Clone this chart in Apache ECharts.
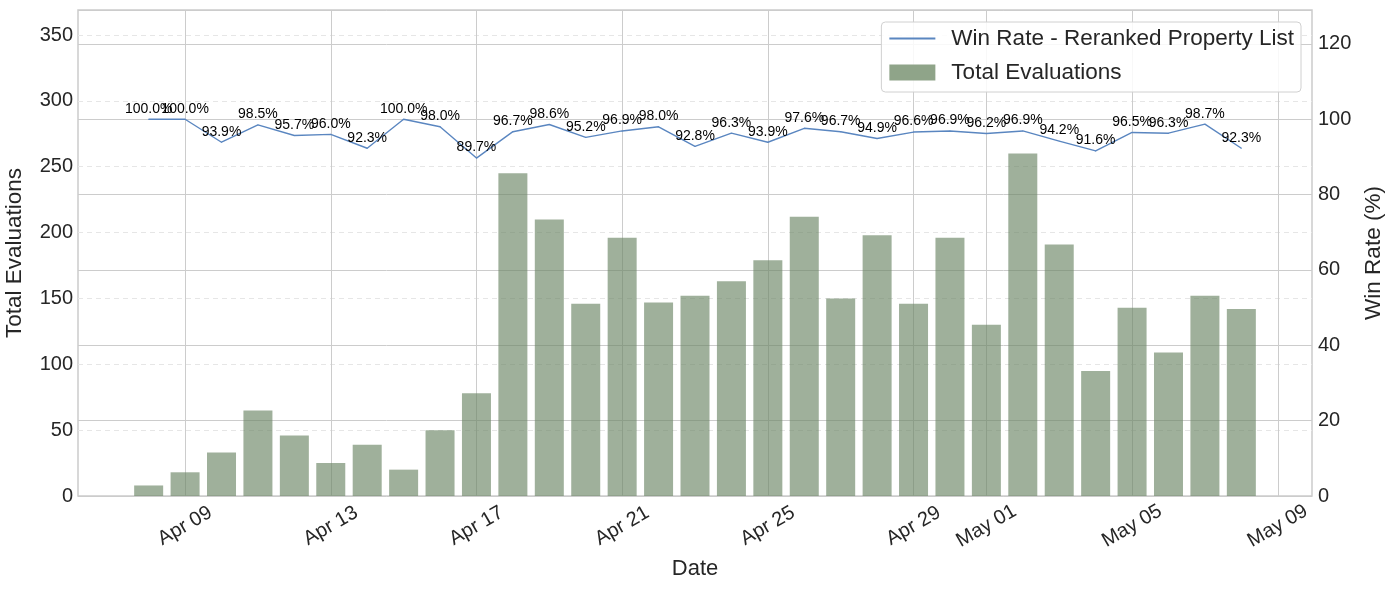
<!DOCTYPE html>
<html>
<head>
<meta charset="utf-8">
<script src="https://cdn.jsdelivr.net/npm/echarts@6/dist/echarts.min.js"></script>
<style>
  html, body { margin: 0; padding: 0; background: #fff; }
  #chart { width: 1390px; height: 590px; }
</style>
</head>
<body>
<div id="chart"></div>
<script>
const dates = [
  '2025-04-08', '2025-04-09', '2025-04-10', '2025-04-11', '2025-04-12', '2025-04-13',
  '2025-04-14', '2025-04-15', '2025-04-16', '2025-04-17', '2025-04-18', '2025-04-19',
  '2025-04-20', '2025-04-21', '2025-04-22', '2025-04-23', '2025-04-24', '2025-04-25',
  '2025-04-26', '2025-04-27', '2025-04-28', '2025-04-29', '2025-04-30', '2025-05-01',
  '2025-05-02', '2025-05-03', '2025-05-04', '2025-05-05', '2025-05-06', '2025-05-07',
  '2025-05-08'
]
const totalEvals = [8, 18, 33, 65, 46, 25, 39, 20, 50, 78, 245, 210, 146, 196, 147, 152,
  163, 179, 212, 150, 198, 146, 196, 130, 260, 191, 95, 143, 109, 152, 142]
const winRate = [100.0, 100.0, 93.9, 98.5, 95.7, 96.0, 92.3, 100.0, 98.0, 89.7, 96.7, 98.6,
  95.2, 96.9, 98.0, 92.8, 96.3, 93.9, 97.6, 96.7, 94.9, 96.6, 96.9, 96.2, 96.9, 94.2,
  91.6, 96.5, 96.3, 98.7, 92.3]
const tickDates = ['2025-04-09', '2025-04-13', '2025-04-17', '2025-04-21', '2025-04-25',
  '2025-04-29', '2025-05-01', '2025-05-05', '2025-05-09']
const monthNames = ['Jan', 'Feb', 'Mar', 'Apr', 'May', 'Jun', 'Jul', 'Aug', 'Sep', 'Oct', 'Nov', 'Dec']

const DAY = 86400000
const t0 = Date.parse(dates[0])
const dayOf = d => (Date.parse(d) - t0) / DAY
const dayLabel = v => {
  const dt = new Date(t0 + Math.round(v) * DAY)
  return monthNames[dt.getUTCMonth()] + ' ' + String(dt.getUTCDate()).padStart(2, '0')
}

const xs = dates.map(dayOf)
const barData = xs.map((x, i) => [x, totalEvals[i]])
const lineData = xs.map((x, i) => [x, winRate[i]])
const ticks = tickDates.map(dayOf)

const font = "'Liberation Sans', Arial, sans-serif"
const textColor = '#262626'
const lineColor = '#5a86c0'

const chart = echarts.init(document.getElementById('chart'))
const option = {
  animation: false,
  textStyle: { fontFamily: font },
  grid: {
    left: 78, right: 78, top: 10, bottom: 94,
    outerBoundsMode: 'none', containLabel: false,
    show: true, borderColor: '#cccccc', borderWidth: 1.5
  },
  legend: {
    right: 89, top: 22, orient: 'vertical',
    itemWidth: 46, itemHeight: 16, itemGap: 11,
    padding: [5, 7, 8, 7],
    backgroundColor: 'rgba(255,255,255,0.85)',
    borderColor: '#d0d0d0', borderWidth: 1, borderRadius: 4,
    textStyle: { fontSize: 22.5, color: textColor, fontFamily: font, padding: [0, 0, 0, 11] },
    data: [
      { name: 'Win Rate - Reranked Property List', itemStyle: { opacity: 0 } },
      { name: 'Total Evaluations', icon: 'rect', itemStyle: { color: '#8fa489', opacity: 1 } }
    ]
  },
  xAxis: {
    type: 'value',
    min: -1.94, max: 31.94,
    name: 'Date', nameLocation: 'middle', nameGap: 62,
    nameTextStyle: { fontSize: 22, color: textColor },
    axisLine: { show: false },
    axisTick: { show: false, customValues: ticks },
    axisLabel: {
      customValues: ticks, rotate: 30, fontSize: 20, color: textColor, margin: 30,
      align: 'center', verticalAlign: 'middle',
      formatter: v => dayLabel(v)
    },
    splitLine: { show: true, lineStyle: { color: '#cccccc', width: 1 } }
  },
  yAxis: [
    {
      type: 'value', min: 0, max: 369, interval: 50,
      name: 'Total Evaluations', nameLocation: 'middle', nameGap: 52,
      nameTextStyle: { fontSize: 22.5, color: textColor },
      axisLine: { show: false }, axisTick: { show: false },
      axisLabel: { fontSize: 20, color: textColor, margin: 5, showMaxLabel: false },
      splitLine: { show: true, lineStyle: { color: '#e6e6e6', type: [5, 4], width: 1 } }
    },
    {
      type: 'value', min: 0, max: 129, interval: 20,
      name: 'Win Rate (%)', nameLocation: 'middle', nameGap: 46,
      nameTextStyle: { fontSize: 22.5, color: textColor },
      axisLine: { show: false }, axisTick: { show: false },
      axisLabel: { fontSize: 20, color: textColor, margin: 6, showMaxLabel: false },
      splitLine: { show: true, lineStyle: { color: '#cccccc', width: 1 } }
    }
  ],
  series: [
    {
      name: 'Win Rate - Reranked Property List',
      type: 'line',
      yAxisIndex: 1,
      data: lineData,
      symbol: 'circle',
      symbolSize: 1,
      showSymbol: true,
      showAllSymbol: true,
      z: 5,
      lineStyle: { color: lineColor, width: 1.4 },
      itemStyle: { color: lineColor },
      label: {
        show: true, position: 'top', distance: 3,
        fontSize: 14, color: '#000', fontFamily: font,
        formatter: p => p.value[1].toFixed(1) + '%'
      },
      labelLayout: { hideOverlap: false }
    },
    {
      name: 'Total Evaluations',
      type: 'bar',
      data: barData,
      barWidth: 29,
      z: 2,
      itemStyle: { color: 'rgba(108,133,102,0.65)' }
    }
  ]
}
option && chart.setOption(option)
</script>
</body>
</html>
